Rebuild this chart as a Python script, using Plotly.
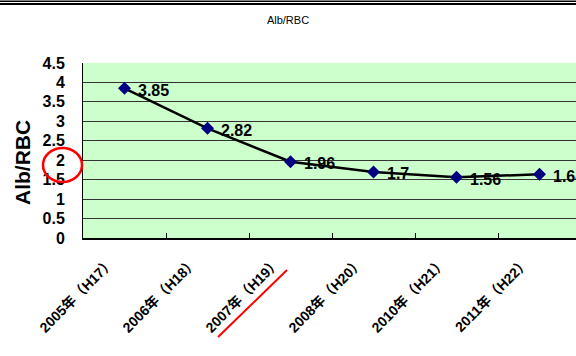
import plotly.graph_objects as go

# Data
categories = ["2005年（H17）", "2006年（H18）", "2007年（H19）",
              "2008年（H20）", "2010年（H21）", "2011年（H22）"]
alb_rbc = [3.85, 2.82, 1.96, 1.7, 1.56, 1.64]
y_ticks = [0, 0.5, 1, 1.5, 2, 2.5, 3, 3.5, 4, 4.5]

# Canvas / plot-area geometry (pixels)
W, H = 576, 356
L, R, T, B = 83, 0, 63, 118
PW, PH = W - L - R, H - T - B
CAT_PX = 83  # width of one category band

FONT = "Liberation Sans, Arial, Noto Sans CJK JP, sans-serif"


def px_x(p):
    return (p - L) / PW


def px_y(p):
    return (H - B - p) / PH


fig = go.Figure()
fig.add_trace(go.Scatter(
    x=categories, y=alb_rbc,
    mode="lines+markers",
    line=dict(color="black", width=2.5),
    marker=dict(symbol="diamond", size=10, color="#000080"),
    showlegend=False,
))

# value labels to the right of each point
value_labels = [
    dict(x=c, y=v, xref="x", yref="y", text=str(v), showarrow=False,
         xanchor="left", yanchor="middle", xshift=11, yshift=-2,
         font=dict(family=FONT, size=16, color="black", weight="bold"))
    for c, v in zip(categories, alb_rbc)
]

shapes = [
    # double rule across the top of the page
    dict(type="line", xref="paper", yref="paper", x0=px_x(0), x1=px_x(W),
         y0=px_y(0.5), y1=px_y(0.5), line=dict(color="#808080", width=1)),
    dict(type="line", xref="paper", yref="paper", x0=px_x(0), x1=px_x(W),
         y0=px_y(1.5), y1=px_y(1.5), line=dict(color="black", width=1)),
    dict(type="line", xref="paper", yref="paper", x0=px_x(0), x1=px_x(W),
         y0=px_y(4), y1=px_y(4), line=dict(color="black", width=2)),
    # red circle around the "2" tick label
    dict(type="circle", xref="paper", yref="paper",
         x0=px_x(43), x1=px_x(82), y0=px_y(182), y1=px_y(148),
         line=dict(color="#ff0000", width=2.5)),
    # red underline of the 2007 label
    dict(type="line", xref="paper", yref="paper",
         x0=px_x(218), y0=px_y(337), x1=px_x(287), y1=px_y(270),
         line=dict(color="#ff0000", width=2)),
]

fig.update_layout(
    width=W, height=H,
    margin=dict(l=L, r=R, t=T, b=B),
    paper_bgcolor="white",
    plot_bgcolor="#ccffcc",
    font=dict(family=FONT, color="black"),
    title=dict(text="Alb/RBC", x=0.5, xref="container", xanchor="center",
               y=1 - 20 / H, yref="container", yanchor="middle",
               font=dict(family=FONT, size=11, color="black")),
    shapes=shapes,
    annotations=value_labels + [
        dict(text="Alb/RBC", xref="paper", yref="paper",
             x=px_x(22), y=px_y(163), textangle=-90, showarrow=False,
             xanchor="center", yanchor="middle",
             font=dict(family=FONT, size=21, color="black", weight="bold"))],
)

fig.update_xaxes(
    type="category",
    range=[-0.5, -0.5 + PW / CAT_PX],
    showgrid=False,
    showline=True, linecolor="black", linewidth=1.5,
    ticks="inside", tickson="boundaries", ticklen=5, tickcolor="black",
    tickangle=-45,
    ticklabelstandoff=9, ticklabelshift=-14,
    tickfont=dict(family=FONT, size=14, color="black", weight="bold"),
)

fig.update_yaxes(
    range=[0, 4.5],
    tickvals=y_ticks,
    showgrid=True, gridcolor="#333333", gridwidth=1,
    showline=True, linecolor="black", linewidth=1,
    mirror=False,
    zeroline=False,
    ticks="",
    ticklabelstandoff=14,
    tickfont=dict(family=FONT, size=16, color="black", weight="bold"),
)

fig.write_html("out.html")
